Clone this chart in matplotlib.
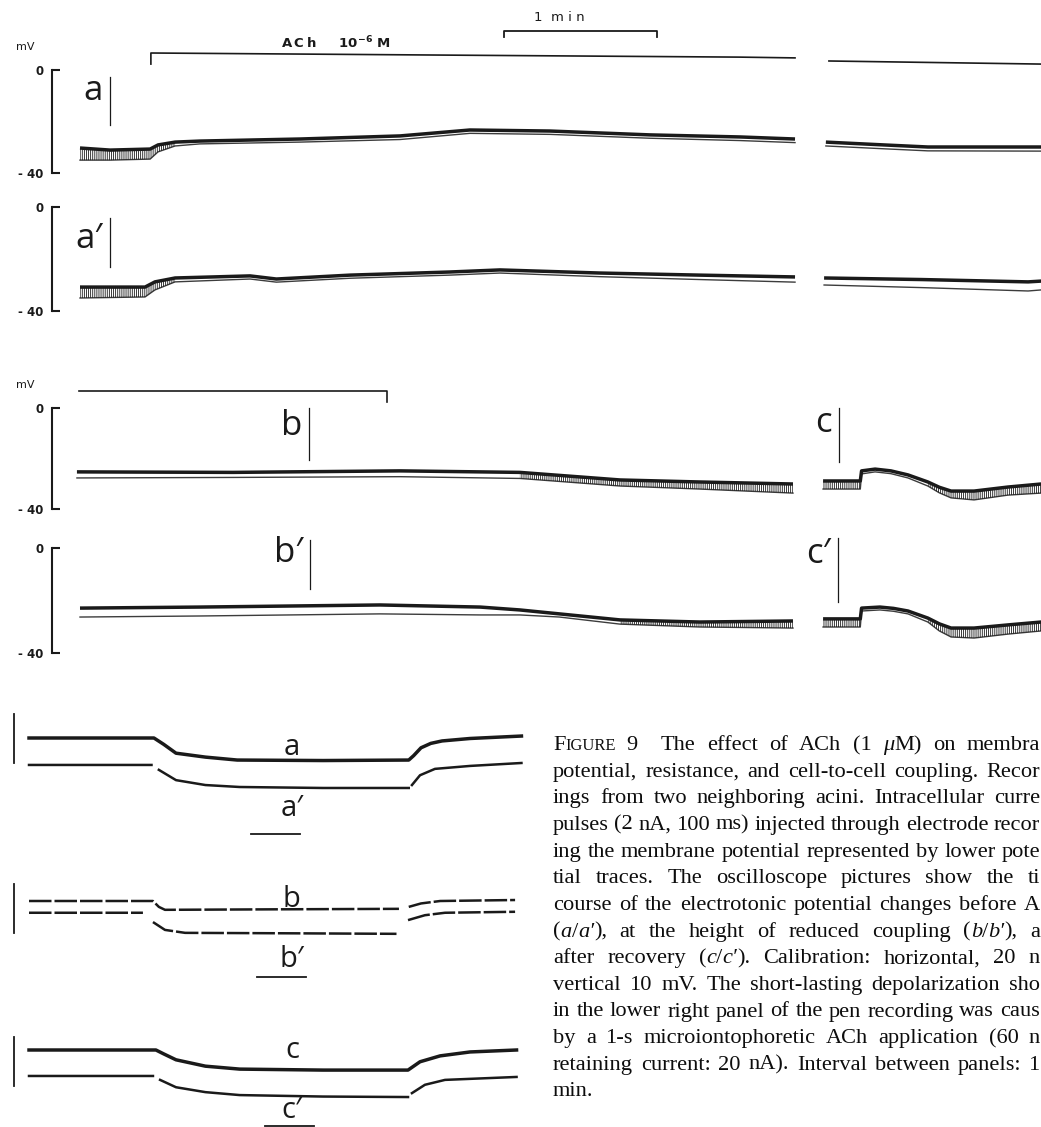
import re

import matplotlib
matplotlib.use("Agg")
import matplotlib.pyplot as plt
import numpy as np
from matplotlib.transforms import IdentityTransform

W, H = 1041, 1127
INK = "#1a1a1a"
LABEL_FONT = ["Open Sans", "DejaVu Sans"]
nan = np.nan

# ---- pen recordings: time (s), upper edge / pulse-tip edge (mV) ----
a_t = [0, 11.8, 27.5, 30.6, 37.3, 47, 86.3, 125.5, 152.9, 184.3, 223.5, 258.8, 280.4]
a_up = [-30.3, -31.1, -30.7, -29.1, -28.0, -27.6, -26.8, -25.6, -23.3, -23.7, -25.2, -26.0, -26.8]
a_lo = [-35.0, -35.0, -34.6, -31.8, -29.5, -28.7, -28.0, -27.0, -24.6, -25.0, -26.5, -27.4, -28.2]
a_t_r = [292.5, 315.3, 332.5, 376.9]
a_up_r = [-28.0, -29.1, -29.9, -29.9]
a_lo_r = [-29.5, -30.6, -31.4, -31.5]

ap_t = [0, 25.5, 29.4, 37.3, 66.7, 77, 105.9, 145, 164.7, 204, 243, 280.4]
ap_up = [-30.8, -30.8, -28.8, -27.3, -26.5, -27.7, -26.2, -25.0, -24.2, -25.4, -26.2, -26.9]
ap_lo = [-35.0, -34.6, -31.9, -28.8, -27.7, -28.9, -27.4, -26.2, -25.4, -26.8, -27.9, -28.9]
ap_t_r = [291.8, 330, 371.8, 376.9]
ap_up_r = [-27.3, -27.9, -28.8, -28.5]
ap_lo_r = [-30.0, -31.0, -32.3, -31.9]

b_t = [-1.2, 60, 125.5, 172.5, 211.8, 243, 279.6]
b_up = [-25.3, -25.5, -24.9, -25.5, -28.5, -29.3, -30.1]
b_lo = [-27.7, -27.5, -27.2, -27.9, -30.9, -32.1, -33.7]
c_t = [291.4, 306.0, 306.5, 311.8, 318, 324.7, 332.5, 337, 341.6, 350.6, 363.9, 376.9]
c_up = [-28.9, -28.9, -24.9, -24.2, -24.9, -26.5, -29.3, -31.4, -32.9, -32.9, -31.3, -30.1]
c_lo = [-32.1, -32.1, -26.1, -25.3, -26.0, -27.7, -30.9, -33.6, -35.6, -36.4, -34.5, -33.7]

bp_t = [0, 47, 117.6, 156.9, 172.5, 188, 211.8, 243, 279.6]
bp_up = [-22.9, -22.5, -21.7, -22.5, -23.6, -25.1, -27.4, -28.2, -27.8]
bp_lo = [-26.3, -25.9, -25.1, -25.5, -25.5, -26.3, -29.0, -30.1, -30.5]
cp_t = [291.4, 306.0, 306.5, 313.7, 319, 324.7, 332.5, 337, 341.6, 350.6, 363.9, 376.9]
cp_up = [-27.0, -27.0, -22.9, -22.5, -23.0, -24.0, -26.7, -28.9, -30.5, -30.5, -29.3, -28.2]
cp_lo = [-30.1, -30.1, -24.0, -23.6, -24.1, -25.1, -28.2, -31.6, -33.9, -34.3, -32.8, -31.6]

# stretches where the single current pulses show as strokes
a_pulses = [(0, 37.3)]
ap_pulses = [(0, 37.3)]
b_pulses = [(172.5, 279.6)]
c_pulses = [(291.4, 306.0), (332.5, 376.9)]
bp_pulses = [(211.8, 279.6)]
cp_pulses = [(291.4, 306.0), (332.5, 376.9)]

# event markers
ach_t = [27.8, 27.8, 141, 258.8, 280.4]
ach_v = [2.3, 6.6, 5.8, 5.0, 4.7]
ach_t_r = [293.7, 376.9]
ach_v_r = [3.5, 2.3]
b_mark_t = [-0.4, 120.4, 120.4]
b_mark_v = [6.7, 6.7, 2.4]
min_start, min_len = 166.3, 60

# times of the oscilloscope pictures (s) and marker extents (mV)
pic_t = {"a": 11.8, "a′": 11.8, "b": 89.8, "b′": 90.2, "c": 297.6, "c′": 297.3}
pic_v = {"a": (-2.7, -21.4), "a′": (-4.2, -23.1), "b": (0, -20.6),
         "b′": (3.0, -15.6), "c": (0, -21.4), "c′": (3.8, -20.6)}
pic_base = {"a": -11.6, "a′": -15.8, "b": -10.7, "b′": -5.3, "c": -9.5, "c′": -5.7}

# ---- oscilloscope pictures: time (ms), potential (mV, relative) ----
oa_t = [0, 51, 55, 60, 72, 85, 120, 155, 157, 160, 164, 168.6, 180, 201]
oa_v = [0, 0, -1.3, -3.1, -3.9, -4.5, -4.6, -4.5, -3.6, -2.0, -1.1, -0.6, -0.1, 0.4]
oap_t = [0, 50, nan, 53, 60, 72, 86, 120, 155, nan, 156.3, 159.6, 165.7, 180, 201]
oap_v = [-5.5, -5.5, nan, -6.5, -8.6, -9.6, -10.0, -10.2, -10.2, nan, -9.6, -7.6, -6.3, -5.7, -5.1]

ob_t = [0, 50.6, 53, 55.5, 100, 151, nan, 155, 160, 167.8, 198.4]
ob_v = [0, 0, -1.2, -1.8, -1.7, -1.6, nan, -1.2, -0.5, 0, 0.2]
obp_t = [0, 46.5, nan, 50.6, 55.5, 63.7, 110, 150, nan, 154.7, 161.6, 169.8, 198.4]
obp_v = [-2.4, -2.4, nan, -4.3, -5.9, -6.5, -6.6, -6.7, nan, -3.9, -2.9, -2.4, -2.2]

oc_t = [0, 51.8, 55, 60, 72, 86, 120, 154.7, 159.6, 167.8, 180, 199]
oc_v = [0, 0, -0.8, -2.0, -3.3, -3.9, -4.1, -4.1, -2.4, -1.2, -0.4, 0]
ocp_t = [0, 50.6, nan, 53.5, 60, 72, 86, 120, 154.7, nan, 156.3, 161.6, 169.8, 199]
ocp_v = [-5.3, -5.3, nan, -6.1, -7.6, -8.6, -9.2, -9.5, -9.6, nan, -8.8, -7.1, -6.1, -5.5]

cal_mv, cal_ms = 10, 20
osc_vbar_low = [-5.1, -6.5, -7.3]
osc_hbar_t = [90.6, 93.0, 96.3]
osc_hbar_v = [-19.6, -15.5, -15.5]
osc_names = [("a", "a′"), ("b", "b′"), ("c", "c′")]
osc_name_v = [(-3.5, -15.9), (-1.2, -13.5), (-1.6, -13.9)]

# caption as it shows in the reference (cut at the right page edge)
caption = [
    "F[IGURE] 9\u2002 The effect of ACh (1 {μ}M) on membra",
    "potential, resistance, and cell-to-cell coupling. Recor",
    "ings from two neighboring acini. Intracellular curre",
    "pulses (2 nA, 100 ms) injected through electrode recor",
    "ing the membrane potential represented by lower pote",
    "tial traces. The oscilloscope pictures show the ti",
    "course of the electrotonic potential changes before A",
    "({a}/{a′}), at the height of reduced coupling ({b}/{b′}), a",
    "after recovery ({c}/{c′}). Calibration: horizontal, 20 n",
    "vertical 10 mV. The short-lasting depolarization sho",
    "in the lower right panel of the pen recording was caus",
    "by a 1-s microiontophoretic ACh application (60 n",
    "retaining current: 20 nA). Interval between panels: 1",
    "min.",
]

plt.rcParams["hatch.linewidth"] = 0.6
fig = plt.figure(figsize=(W / 100, H / 100), dpi=100)

PEN_X0, PEN_XS = 80, 2.55      # px of t=0, px per s
OSC_X0, OSC_XS = 29, 2.45      # px of t=0, px per ms
OSC_YS = 4.9                   # px per mV


def place(box, x0, xs, y0, ys):
    l, t, r, b = box
    ax = fig.add_axes([l / W, 1 - b / H, (r - l) / W, (b - t) / H])
    ax.set_xlim((l - x0) / xs, (r - x0) / xs)
    ax.set_ylim((y0 - b) / ys, (y0 - t) / ys)
    ax.patch.set_visible(False)
    for s in ax.spines.values():
        s.set_visible(False)
    ax.set_xticks([])
    ax.set_yticks([])
    return ax


def pen_axes(box, zero_px, m40_px, unit=False):
    ax = place(box, PEN_X0, PEN_XS, zero_px, (m40_px - zero_px) / 40)
    sp = ax.spines["left"]
    sp.set_visible(True)
    sp.set_position(("data", (52 - PEN_X0) / PEN_XS))
    sp.set_bounds(-40, 0)
    sp.set_linewidth(1.5)
    sp.set_color(INK)
    ax.set_yticks([0, -40], ["0", "- 40"])
    ax.tick_params(axis="y", direction="in", length=6, width=1.5, pad=6,
                   labelsize=8.5, colors=INK)
    for lab in ax.get_yticklabels():
        lab.set_fontweight("bold")
    if unit:
        ax.text(-21.6, 9.0, "mV", fontsize=8, color=INK, ha="center", va="center")
    return ax


def pen_trace(ax, t, up, lo, pulses):
    t = np.asarray(t, float)
    ax.plot(t, up, color=INK, lw=2.5, solid_capstyle="butt")
    ax.plot(t, lo, color=INK, lw=1.0, alpha=0.85)
    for t0, t1 in pulses:
        m = (t >= t0) & (t <= t1)
        ax.fill_between(t, up, lo, where=m, hatch="||||||||", facecolor="none",
                        edgecolor=INK, linewidth=0)


def pic_marker(ax, name):
    t = pic_t[name]
    ax.plot([t, t], pic_v[name], color=INK, lw=0.9)
    ax.text(t - 2.8, pic_base[name], name, fontsize=25, family=LABEL_FONT,
            color=INK, ha="right", va="baseline")


ax_a = pen_axes((0, 5, 1041, 195), 70, 173, unit=True)
pen_trace(ax_a, a_t, a_up, a_lo, a_pulses)
pen_trace(ax_a, a_t_r, a_up_r, a_lo_r, [])
ax_a.plot(ach_t, ach_v, color=INK, lw=1.2)
ax_a.plot(ach_t_r, ach_v_r, color=INK, lw=1.2)
ax_a.text(100.4, 10.6, "A\u2009C\u2009h" + r"     10$^{\mathbf{-6}}$ M", fontsize=9.5,
          fontweight="bold", color=INK, ha="center", va="center")
ax_a.plot([min_start, min_start, min_start + min_len, min_start + min_len],
          [12.8, 15.1, 15.1, 12.8], color=INK, lw=1.3)
ax_a.text(min_start + min_len * 0.36, 20.2, "1  m i n", fontsize=9.5, color=INK,
          ha="center", va="center")
pic_marker(ax_a, "a")

ax_ap = pen_axes((0, 195, 1041, 335), 207, 311)
pen_trace(ax_ap, ap_t, ap_up, ap_lo, ap_pulses)
pen_trace(ax_ap, ap_t_r, ap_up_r, ap_lo_r, [])
pic_marker(ax_ap, "a′")

ax_b = pen_axes((0, 375, 1041, 530), 408, 509, unit=True)
pen_trace(ax_b, b_t, b_up, b_lo, b_pulses)
pen_trace(ax_b, c_t, c_up, c_lo, c_pulses)
ax_b.plot(b_mark_t, b_mark_v, color=INK, lw=1.2)
pic_marker(ax_b, "b")
pic_marker(ax_b, "c")

ax_bp = pen_axes((0, 530, 1041, 670), 548, 653)
pen_trace(ax_bp, bp_t, bp_up, bp_lo, bp_pulses)
pen_trace(ax_bp, cp_t, cp_up, cp_lo, cp_pulses)
pic_marker(ax_bp, "b′")
pic_marker(ax_bp, "c′")

# oscilloscope pictures
osc = [(oa_t, oa_v, oap_t, oap_v, 738, (0, 700, 530, 850), "-"),
       (ob_t, ob_v, obp_t, obp_v, 901, (0, 865, 530, 995), (0, (9, 1.2))),
       (oc_t, oc_v, ocp_t, ocp_v, 1050, (0, 1015, 530, 1127), "-")]
for i, (t1, v1, t2, v2, base, box, ls) in enumerate(osc):
    ax = place(box, OSC_X0, OSC_XS, base, OSC_YS)
    ax.plot(t1, v1, color=INK, lw=2.5 if i != 1 else 1.8, ls=ls)
    ax.plot(t2, v2, color=INK, lw=1.8, ls=ls)
    ax.plot([-6.0, -6.0], [osc_vbar_low[i], osc_vbar_low[i] + cal_mv], color=INK, lw=1.3)
    ax.plot([osc_hbar_t[i], osc_hbar_t[i] + cal_ms], [osc_hbar_v[i]] * 2, color=INK, lw=1.3)
    for name, v in zip(osc_names[i], osc_name_v[i]):
        ax.text(107.3, v, name, fontsize=21, family=LABEL_FONT, color=INK,
                ha="center", va="baseline")

# caption, justified between two margins
CAP_L, CAP_R, CAP_Y0, CAP_DY, CAP_FS = 553, 1040, 750, 26.65, 16.1
renderer = fig.canvas.get_renderer()
tr = IdentityTransform()


def segments(word):
    out = []
    for part in re.findall(r"\{[^}]*\}|\[[^\]]*\]|[^{\[]+", word):
        if part.startswith("{"):
            out.append((part[1:-1], "italic", CAP_FS))
        elif part.startswith("["):
            out.append((part[1:-1].upper(), "normal", CAP_FS * 0.74))
        else:
            out.append((part, "normal", CAP_FS))
    return out


for i, line in enumerate(caption):
    y = H - (CAP_Y0 + i * CAP_DY)
    words = []
    for word in line.split(" "):
        parts = []
        for text, style, fs in segments(word):
            txt = fig.text(0, y, text, fontsize=fs, style=style, family="Liberation Serif",
                           color="#0d0d0d", va="baseline", ha="left", transform=tr)
            parts.append((txt, txt.get_window_extent(renderer).width))
        words.append(parts)
    widths = [sum(w for _, w in p) for p in words]
    if i < len(caption) - 1:
        gap = (CAP_R - CAP_L - sum(widths)) / (len(words) - 1)
    else:
        gap = CAP_FS * 0.35
    x = CAP_L
    for parts, wsum in zip(words, widths):
        xx = x
        for txt, w in parts:
            txt.set_x(xx)
            xx += w
        x += wsum + gap

fig.savefig("out.png", dpi=100, facecolor="white")
